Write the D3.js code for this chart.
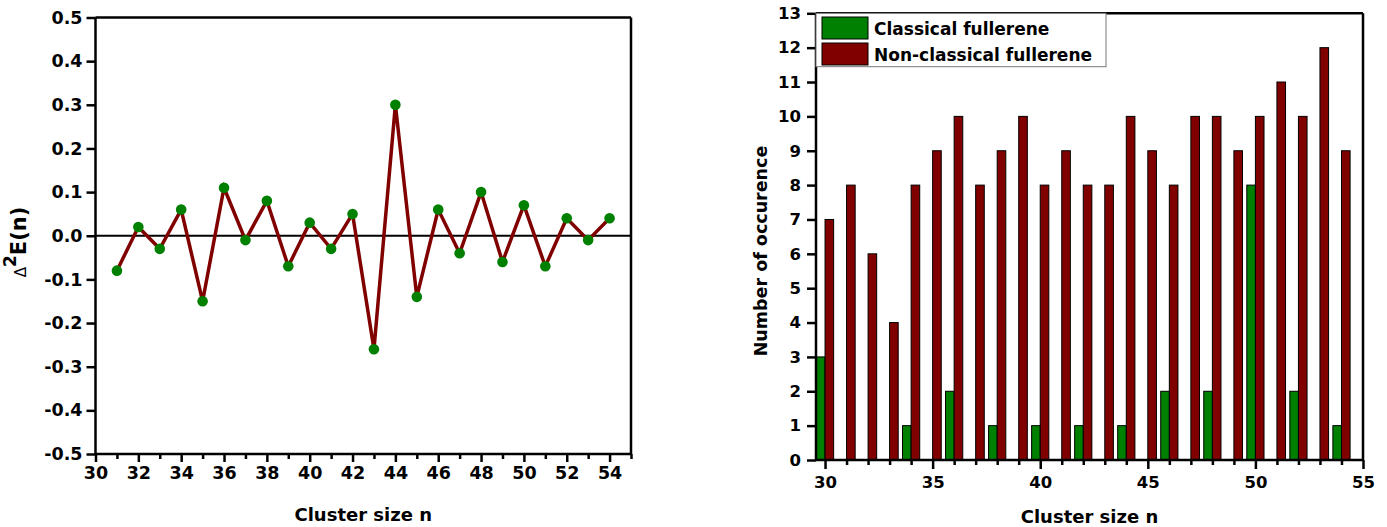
<!DOCTYPE html>
<html>
<head>
<meta charset="utf-8">
<script src="https://cdn.jsdelivr.net/npm/d3@7"></script>
<style>
  html, body { margin: 0; padding: 0; background: #fff; }
  svg { display: block; }
  text { font-family: "DejaVu Sans", sans-serif; font-weight: bold; fill: #000; }
</style>
</head>
<body>
<svg id="chart" width="1387" height="527"></svg>
<script>
// ---------- Data: left panel ----------
const clusterSizes = [31,32,33,34,35,36,37,38,39,40,41,42,43,44,45,46,47,48,49,50,51,52,53,54];
const secondDiff   = [-0.08,0.02,-0.03,0.06,-0.15,0.11,-0.01,0.08,-0.07,0.03,-0.03,0.05,-0.26,0.30,-0.14,0.06,-0.04,0.10,-0.06,0.07,-0.07,0.04,-0.01,0.04];
const leftYTicks   = [0.5,0.4,0.3,0.2,0.1,0.0,-0.1,-0.2,-0.3,-0.4,-0.5];
const leftYLabels  = ["0.5","0.4","0.3","0.2","0.1","0.0","-0.1","-0.2","-0.3","-0.4","-0.5"];
const leftXMajor   = [30,32,34,36,38,40,42,44,46,48,50,52,54];
const leftXMinor   = [31,33,35,37,39,41,43,45,47,49,51,53,55];

// ---------- Data: right panel ----------
const barSizes     = [30,31,32,33,34,35,36,37,38,39,40,41,42,43,44,45,46,47,48,49,50,51,52,53,54];
const classical    = [3,0,0,0,1,0,2,0,1,0,1,0,1,0,1,0,2,0,2,0,8,0,2,0,1];
const nonClassical = [7,8,6,4,8,9,10,8,9,10,8,9,8,8,10,9,8,10,10,9,10,11,10,12,9];
const seriesNames  = ["Classical fullerene","Non-classical fullerene"];
const rightYTicks  = [0,1,2,3,4,5,6,7,8,9,10,11,12,13];
const rightXMajor  = [30,35,40,45,50,55];
const rightXMinor  = [31,32,33,34,36,37,38,39,41,42,43,44,46,47,48,49,51,52,53,54];

const GREEN = "#008000", RED = "#800000";
const svg = d3.select("#chart");

// ================= LEFT PANEL =================
(function () {
  const L = 95.5, R = 631, T = 17.5, B = 454;
  const x = d3.scaleLinear().domain([30, 55]).range([L, R]);
  const y = d3.scaleLinear().domain([-0.5, 0.5]).range([B, T]);
  const g = svg.append("g");

  g.append("line").attr("x1", L).attr("x2", R).attr("y1", T).attr("y2", T).attr("stroke", "#000").attr("stroke-width", 2.5);
  g.append("line").attr("x1", R).attr("x2", R).attr("y1", T).attr("y2", B).attr("stroke", "#000").attr("stroke-width", 2.5);

  g.append("line").attr("x1", L).attr("x2", R).attr("y1", y(0)).attr("y2", y(0)).attr("stroke", "#000").attr("stroke-width", 2);

  const ya = d3.axisLeft(y).tickValues(leftYTicks).tickSize(9).tickPadding(4)
    .tickFormat((d, i) => leftYLabels[i]);
  const yg = g.append("g").attr("transform", `translate(${L},0)`).call(ya);
  yg.select(".domain").attr("stroke-width", 2.5).attr("d", `M0,${T}V${B}`);
  yg.selectAll(".tick line").attr("stroke-width", 2.5);
  yg.selectAll(".tick text").style("font-size", "17.5px").style("font-family", "DejaVu Sans").style("font-weight", "bold");

  const xa = d3.axisBottom(x).tickValues(leftXMajor).tickSize(8).tickPadding(5).tickFormat(d3.format("d"));
  const xg = g.append("g").attr("transform", `translate(0,${B})`).call(xa);
  xg.select(".domain").attr("stroke-width", 2.5).attr("d", `M${L},0H${R}`);
  xg.selectAll(".tick line").attr("stroke-width", 2.5);
  xg.selectAll(".tick text").style("font-size", "17.5px").style("font-family", "DejaVu Sans").style("font-weight", "bold");
  const xm = d3.axisBottom(x).tickValues(leftXMinor).tickSize(5).tickFormat("");
  const xmg = g.append("g").attr("transform", `translate(0,${B})`).call(xm);
  xmg.select(".domain").remove();
  xmg.selectAll(".tick line").attr("stroke-width", 2.5);

  const pts = clusterSizes.map((n, i) => [n, secondDiff[i]]);
  g.append("path").datum(pts)
    .attr("fill", "none").attr("stroke", RED).attr("stroke-width", 3.5).attr("stroke-linejoin", "miter")
    .attr("d", d3.line().x(d => x(d[0])).y(d => y(d[1])));
  g.selectAll("circle.pt").data(pts).join("circle").attr("class", "pt")
    .attr("cx", d => x(d[0])).attr("cy", d => y(d[1])).attr("r", 5.3).attr("fill", GREEN);

  g.append("text").attr("x", (L + R) / 2).attr("y", 521).attr("text-anchor", "middle")
    .style("font-size", "18px").text("Cluster size n");
  const yt = g.append("text").attr("transform", "translate(26,242) rotate(-90)").attr("text-anchor", "middle")
    .style("font-size", "21px");
  yt.append("tspan").style("font-weight", "normal").style("font-size", "15px").text("Δ");
  yt.append("tspan").attr("dy", -10).style("font-size", "17px").text("2");
  yt.append("tspan").attr("dy", 10).text("E(n)");
})();

// ================= RIGHT PANEL =================
(function () {
  const L = 816, R = 1363, T = 13.3, B = 460;
  const x = d3.scaleLinear().domain([29.58, 55]).range([L, R]);
  const y = d3.scaleLinear().domain([0, 13]).range([B, T]);
  const bw = 0.4;
  const g = svg.append("g");

  const data = barSizes.map((n, i) => ({ n, c: classical[i], nc: nonClassical[i] }));
  g.selectAll("rect.cl").data(data.filter(d => d.c > 0)).join("rect").attr("class", "cl")
    .attr("x", d => x(d.n - bw)).attr("width", d => x(d.n) - x(d.n - bw))
    .attr("y", d => y(d.c)).attr("height", d => y(0) - y(d.c))
    .attr("fill", GREEN).attr("stroke", "#000").attr("stroke-width", 1);
  g.selectAll("rect.nc").data(data).join("rect").attr("class", "nc")
    .attr("x", d => x(d.n)).attr("width", d => x(d.n + bw) - x(d.n))
    .attr("y", d => y(d.nc)).attr("height", d => y(0) - y(d.nc))
    .attr("fill", RED).attr("stroke", "#000").attr("stroke-width", 1);

  g.append("line").attr("x1", L).attr("x2", R).attr("y1", T).attr("y2", T).attr("stroke", "#000").attr("stroke-width", 2.5);
  g.append("line").attr("x1", R).attr("x2", R).attr("y1", T).attr("y2", B).attr("stroke", "#000").attr("stroke-width", 2.5);

  const ya = d3.axisLeft(y).tickValues(rightYTicks).tickSize(9).tickPadding(6).tickFormat(d3.format("d"));
  const yg = g.append("g").attr("transform", `translate(${L},0)`).call(ya);
  yg.select(".domain").attr("stroke-width", 2.5).attr("d", `M0,${T}V${B}`);
  yg.selectAll(".tick line").attr("stroke-width", 2.5);
  yg.selectAll(".tick text").style("font-size", "16.5px").style("font-family", "DejaVu Sans").style("font-weight", "bold");

  const xa = d3.axisBottom(x).tickValues(rightXMajor).tickSize(9).tickPadding(7).tickFormat(d3.format("d"));
  const xg = g.append("g").attr("transform", `translate(0,${B})`).call(xa);
  xg.select(".domain").attr("stroke-width", 2.5).attr("d", `M${L},0H${R}`);
  xg.selectAll(".tick line").attr("stroke-width", 2.5);
  xg.selectAll(".tick text").style("font-size", "16.5px").style("font-family", "DejaVu Sans").style("font-weight", "bold");
  const xm = d3.axisBottom(x).tickValues(rightXMinor).tickSize(5).tickFormat("");
  const xmg = g.append("g").attr("transform", `translate(0,${B})`).call(xm);
  xmg.select(".domain").remove();
  xmg.selectAll(".tick line").attr("stroke-width", 2.5);

  const lg = g.append("g");
  lg.append("rect").attr("x", L).attr("y", T).attr("width", 1106 - L).attr("height", 66.7 - T)
    .attr("fill", "#fff").attr("stroke", "#777").attr("stroke-width", 1);
  const colors = [GREEN, RED];
  seriesNames.forEach((name, i) => {
    lg.append("rect").attr("x", 822).attr("y", 17 + i * 26).attr("width", 46).attr("height", 22)
      .attr("fill", colors[i]).attr("stroke", "#000").attr("stroke-width", 1);
    lg.append("text").attr("x", 874).attr("y", 34.5 + i * 26).style("font-size", "17px").text(name);
  });

  g.append("text").attr("x", (L + R) / 2).attr("y", 523).attr("text-anchor", "middle")
    .style("font-size", "18px").text("Cluster size n");
  g.append("text").attr("transform", "translate(767,251) rotate(-90)").attr("text-anchor", "middle")
    .style("font-size", "17.5px").text("Number of occurence");
})();
</script>
</body>
</html>
